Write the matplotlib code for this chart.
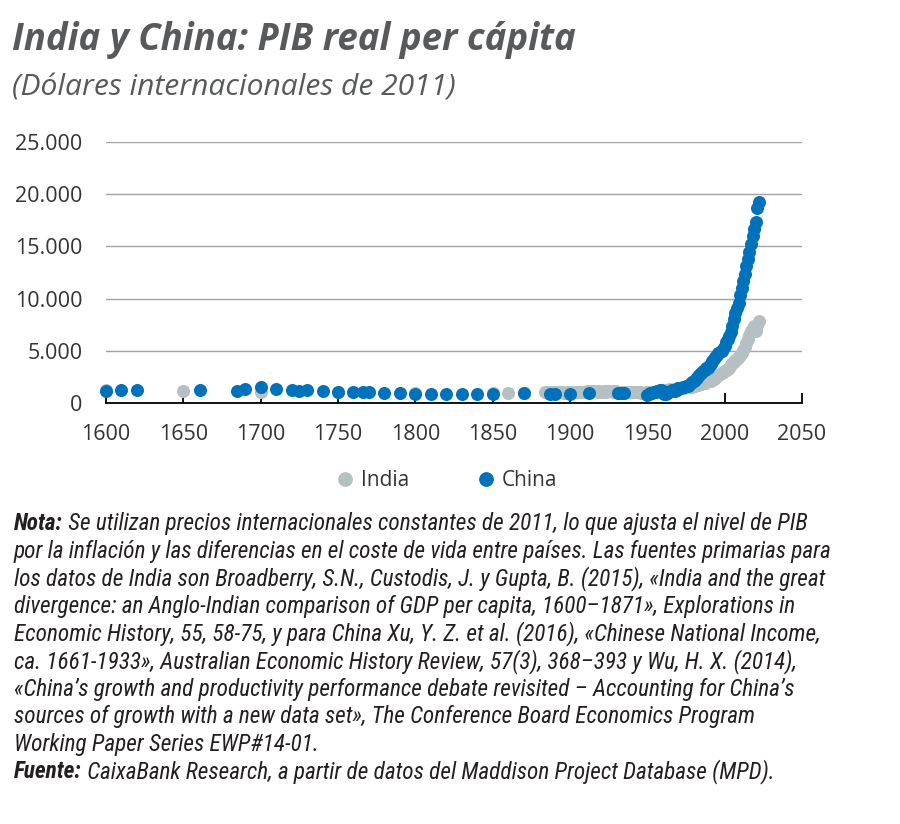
import matplotlib
matplotlib.use("Agg")
import matplotlib.pyplot as plt
import matplotlib.font_manager as fm
from matplotlib.lines import Line2D
from matplotlib.ticker import FuncFormatter

# ---------------- data ----------------
india_years = [1600, 1650, 1700, 1750, 1800, 1850, 1860, 1870] + list(range(1884, 2023))
india_values = [
    1200, 1150, 1100, 1020, 1000, 960, 940, 930,
    # 1884-1949
    1010, 1020, 1000, 1030, 1020, 1040, 1050, 1000, 1030, 1050,
    1060, 1040, 990, 970, 1050, 1010, 1000, 1010, 1060, 1070,
    1080, 1050, 1060, 1030, 1020, 1090, 1100, 1110, 1110, 1100,
    1110, 1120, 1120, 1130, 1040, 1110, 1060, 1070, 1120, 1100,
    1110, 1110, 1120, 1110, 1100, 1120, 1110, 1100, 1100, 1090,
    1080, 1060, 1080, 1070, 1050, 1070, 1080, 1070, 1050, 1060,
    1050, 1040, 1000, 990, 1000, 1010,
    # 1950-2022
    1010, 1020, 1030, 1070, 1090, 1100, 1130, 1100, 1160, 1170,
    1210, 1230, 1240, 1280, 1330, 1270, 1260, 1330, 1350, 1400,
    1440, 1430, 1410, 1430, 1420, 1500, 1500, 1570, 1630, 1530,
    1600, 1660, 1680, 1760, 1790, 1840, 1890, 1930, 2040, 2110,
    2170, 2150, 2220, 2310, 2410, 2550, 2680, 2750, 2850, 3000,
    3050, 3150, 3220, 3400, 3600, 3800, 3950, 4150, 4250, 4400,
    4600, 4800, 5050, 5350, 5750, 6150, 6550, 6900, 7200, 7350,
    6850, 7450, 7850,
]

china_years = [1600, 1610, 1620, 1661, 1685, 1690, 1700, 1710, 1720, 1725,
               1730, 1740, 1750, 1760, 1766, 1770, 1780, 1790, 1800, 1810,
               1820, 1830, 1840, 1850, 1870, 1887, 1890, 1900, 1912,
               1931, 1932, 1933, 1934, 1935] + list(range(1950, 2023))
china_values = [
    1180, 1250, 1220, 1270, 1180, 1300, 1570, 1370, 1270, 1180,
    1250, 1150, 1060, 1030, 1030, 1030, 960, 960, 900, 900,
    900, 830, 870, 870, 930, 880, 880, 900, 930,
    990, 1000, 990, 980, 1000,
    # 1950-2022
    800, 870, 960, 1000, 1010, 1050, 1120, 1150, 1280, 1260,
    1150, 900, 880, 960, 1060, 1160, 1250, 1200, 1170, 1290,
    1420, 1460, 1480, 1560, 1580, 1660, 1630, 1740, 1900, 2000,
    2150, 2250, 2400, 2600, 2750, 2900, 3050, 3200, 3350, 3400,
    3500, 3750, 4000, 4250, 4450, 4600, 4750, 4900, 5000, 5150,
    5450, 5800, 6100, 6400, 6800, 7400, 8000, 8600, 9100, 9600,
    10300, 11000, 11700, 12400, 13100, 13800, 14500, 15200, 16000, 16700,
    17300, 18700, 19300,
]

x_ticks = list(range(1600, 2051, 50))
y_ticks = list(range(0, 25001, 5000))
series_labels = ["India", "China"]

title = "India y China: PIB real per cápita"
subtitle = "(Dólares internacionales de 2011)"
note_lines = [
    ("Nota:", " Se utilizan precios internacionales constantes de 2011, lo que ajusta el nivel de PIB"),
    ("", "por la inflación y las diferencias en el coste de vida entre países. Las fuentes primarias para"),
    ("", "los datos de India son Broadberry, S.N., Custodis, J. y Gupta, B. (2015), «India and the great"),
    ("", "divergence: an Anglo-Indian comparison of GDP per capita, 1600–1871», Explorations in"),
    ("", "Economic History, 55, 58-75, y para China Xu, Y. Z. et al. (2016), «Chinese National Income,"),
    ("", "ca. 1661-1933», Australian Economic History Review, 57(3), 368–393 y Wu, H. X. (2014),"),
    ("", "«China’s growth and productivity performance debate revisited – Accounting for China’s"),
    ("", "sources of growth with a new data set», The Conference Board Economics Program"),
    ("", "Working Paper Series EWP#14-01."),
    ("Fuente:", " CaixaBank Research, a partir de datos del Maddison Project Database (MPD)."),
]

# ---------------- style ----------------
C_INDIA = "#B5C0C3"
C_CHINA = "#0072BC"
C_TITLE = "#58595B"
C_TEXT = "#333333"
C_NOTE = "#231F20"

W, H = 900, 824


def available(name):
    try:
        fm.findfont(fm.FontProperties(family=name), fallback_to_default=False)
        return True
    except Exception:
        return False


def first_font(cands):
    for c in cands:
        if available(c):
            return c
    return "DejaVu Sans"


BASE = first_font(["Open Sans", "Noto Sans", "Lato", "DejaVu Sans"])
NARROW = first_font(["Liberation Sans Narrow", "Roboto Condensed", BASE])
plt.rcParams["font.family"] = [BASE, "DejaVu Sans"]

fig = plt.figure(figsize=(W / 100, H / 100), dpi=100)
fig.patch.set_facecolor("white")
renderer = fig.canvas.get_renderer()


def fx(px):
    return px / W


def fy(py):
    return 1 - py / H


# axes: x 1600->px106, 2050->px802 ; y 0->px403, 25000->px142
ax = fig.add_axes([fx(106), fy(403), fx(802) - fx(106), (403 - 142) / H])
ax.set_xlim(x_ticks[0], x_ticks[-1])
ax.set_ylim(y_ticks[0], y_ticks[-1])
ax.set_xticks(x_ticks)
ax.set_yticks(y_ticks)
ax.yaxis.set_major_formatter(FuncFormatter(lambda v, p: f"{int(v):,}".replace(",", ".")))
for s in ["top", "right", "left"]:
    ax.spines[s].set_visible(False)
ax.spines["bottom"].set_color("black")
ax.spines["bottom"].set_linewidth(1.3)
ax.spines["bottom"].set_zorder(5)
ax.tick_params(axis="x", direction="in", length=7, width=1.3, color="black",
               pad=15, labelsize=15.5, labelcolor=C_TEXT)
ax.tick_params(axis="y", length=0, pad=17, labelsize=15.5, labelcolor=C_TEXT)
ax.grid(axis="y", color="#a3a3a3", linewidth=1.0)
ax.grid(axis="x", visible=False)
ax.set_axisbelow(True)

ax.scatter(india_years, india_values, s=88, color=C_INDIA, linewidths=0,
           clip_on=False, zorder=3)
ax.scatter(china_years, china_values, s=88, color=C_CHINA, linewidths=0,
           clip_on=False, zorder=4)

# legend
handles = [Line2D([], [], marker="o", ls="", color=C_INDIA, markersize=9.6),
           Line2D([], [], marker="o", ls="", color=C_CHINA, markersize=9.6)]
fig.legend(handles, series_labels, loc="center", bbox_to_anchor=(fx(447), fy(481)),
           ncol=2, frameon=False, fontsize=15, handlelength=0.8,
           handletextpad=0.37, columnspacing=3.3, labelcolor=C_TEXT)


def width_px(t):
    return t.get_window_extent(renderer=renderer).width


def fitted_text(x, y, s, target_w, **kw):
    t = fig.text(fx(x), fy(y), s, fontsize=10, va="baseline", ha="left", **kw)
    w = width_px(t)
    t.set_fontsize(10 * target_w / w)
    return t


fitted_text(12, 50, title, 566, color=C_TITLE, fontweight="bold", fontstyle="italic")
fitted_text(12, 96, subtitle, 443, color=C_TITLE, fontstyle="italic")

# notes: size fitted so that the first line spans the reference width
probe_b = fig.text(0, 0, note_lines[0][0], fontsize=10, family=[NARROW, "DejaVu Sans"],
                   fontweight="bold", fontstyle="italic")
probe_r = fig.text(0, 0, note_lines[0][1], fontsize=10, family=[NARROW, "DejaVu Sans"],
                   fontstyle="italic")
w10 = width_px(probe_b) + width_px(probe_r)
probe_b.remove()
probe_r.remove()
note_fs = 10 * 794 / w10

x0 = 14
base0 = 530
step = 27.6
for i, (bold, rest) in enumerate(note_lines):
    yb = base0 + i * step
    x = x0
    if bold:
        tb = fig.text(fx(x), fy(yb), bold, fontsize=note_fs, family=[NARROW, "DejaVu Sans"],
                      fontweight="bold", fontstyle="italic", color=C_NOTE,
                      va="baseline", ha="left")
        x += width_px(tb)
    fig.text(fx(x), fy(yb), rest, fontsize=note_fs, family=[NARROW, "DejaVu Sans"],
             fontstyle="italic", color=C_NOTE, va="baseline", ha="left")

fig.savefig("out.png", dpi=100, facecolor="white")
